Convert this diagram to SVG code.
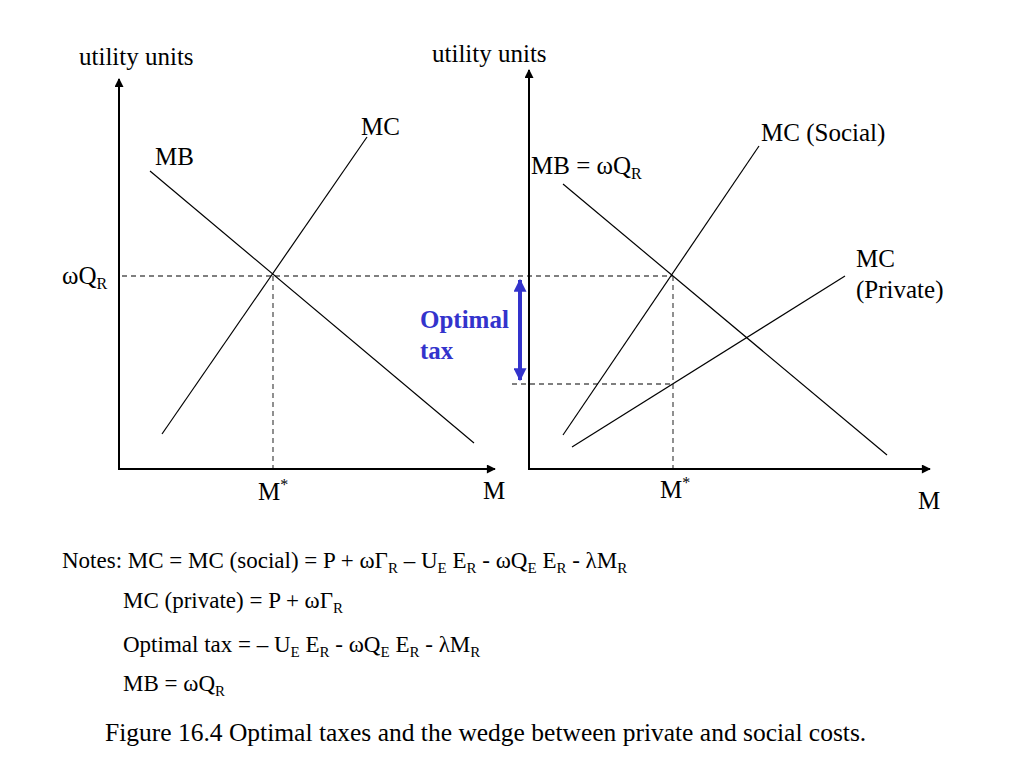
<svg xmlns="http://www.w3.org/2000/svg" width="1024" height="768" viewBox="0 0 1024 768">
<defs>
<marker id="ah" viewBox="0 0 10 10" refX="9" refY="5" markerWidth="10" markerHeight="9" markerUnits="userSpaceOnUse" orient="auto">
<path d="M0,0 L10,5 L0,10 z" fill="#000"/>
</marker>
<marker id="bh" viewBox="0 0 10 10" refX="9" refY="5" markerWidth="15" markerHeight="13" markerUnits="userSpaceOnUse" orient="auto-start-reverse">
<path d="M0,0 L10,5 L0,10 z" fill="#3333CC"/>
</marker>
</defs>
<style>
text{font-family:"Liberation Serif","Times New Roman",serif;fill:#000}
.lbl{font-size:25px}
.note{font-size:23px}
.cap{font-size:25.5px}
.sub{font-size:16px}
.nsub{font-size:15px}
.axis{stroke:#000;stroke-width:2;fill:none}
.curve{stroke:#000;stroke-width:1.2;fill:none}
.dash{stroke:#555;stroke-width:1.3;stroke-dasharray:5,4;fill:none}
.blue{fill:#3333CC;font-weight:bold;font-size:25px}
</style>
<rect width="1024" height="768" fill="#fff"/>

<g id="connectors">
<line class="dash" x1="122" y1="276" x2="672" y2="276"/>
<line class="dash" x1="273" y1="276" x2="273" y2="468"/>
<line class="dash" x1="512" y1="384" x2="673" y2="384"/>
<line class="dash" x1="673" y1="276" x2="673" y2="468"/>
<line class="axis" x1="119" y1="469" x2="119" y2="79" marker-end="url(#ah)"/>
<line class="axis" x1="118" y1="469" x2="495" y2="469" marker-end="url(#ah)"/>
<line class="axis" x1="529" y1="470" x2="529" y2="70" marker-end="url(#ah)"/>
<line class="axis" x1="528" y1="469" x2="930" y2="469" marker-end="url(#ah)"/>
<line class="curve" x1="150" y1="171" x2="474" y2="443"/>
<line class="curve" x1="162" y1="434" x2="367" y2="137"/>
<line class="curve" x1="563" y1="184" x2="887" y2="455"/>
<line class="curve" x1="563" y1="435" x2="759" y2="146"/>
<line class="curve" x1="572" y1="447" x2="845" y2="276"/>
<line x1="520" y1="280" x2="520" y2="380" stroke="#3333CC" stroke-width="4" marker-start="url(#bh)" marker-end="url(#bh)"/>
</g>

<g id="left-ylabel"><text class="lbl" x="79" y="65">utility units</text></g>
<g id="left-mb"><text class="lbl" x="155" y="165">MB</text></g>
<g id="left-mc"><text class="lbl" x="361" y="135">MC</text></g>
<g id="left-wq"><text class="lbl" x="62" y="284">ωQ<tspan class="sub" dy="5">R</tspan></text></g>
<g id="left-mstar"><text class="lbl" x="258" y="500">M<tspan class="sub" dy="-10">*</tspan></text></g>
<g id="left-m"><text class="lbl" x="483" y="499">M</text></g>

<g id="right-ylabel"><text class="lbl" x="432" y="62">utility units</text></g>
<g id="right-mcs"><text class="lbl" x="761" y="141">MC (Social)</text></g>
<g id="right-mb"><text class="lbl" x="531" y="174">MB = ωQ<tspan class="sub" dy="5">R</tspan></text></g>
<g id="right-mcp"><text class="lbl" x="856" y="267">MC</text><text class="lbl" x="856" y="298">(Private)</text></g>
<g id="right-mstar"><text class="lbl" x="660" y="498">M<tspan class="sub" dy="-10">*</tspan></text></g>
<g id="right-m"><text class="lbl" x="918" y="509">M</text></g>

<g id="optimal-tax"><text class="blue" x="420" y="328">Optimal</text><text class="blue" x="420" y="359">tax</text></g>

<g id="notes">
<text class="note" x="62" y="568">Notes: MC = MC (social) = P + ωΓ<tspan class="nsub" dy="5">R</tspan><tspan dy="-5"> – U</tspan><tspan class="nsub" dy="5">E</tspan><tspan dy="-5"> E</tspan><tspan class="nsub" dy="5">R</tspan><tspan dy="-5"> - ωQ</tspan><tspan class="nsub" dy="5">E</tspan><tspan dy="-5"> E</tspan><tspan class="nsub" dy="5">R</tspan><tspan dy="-5"> - λM</tspan><tspan class="nsub" dy="5">R</tspan></text>
<text class="note" x="123" y="608">MC (private) = P + ωΓ<tspan class="nsub" dy="5">R</tspan></text>
<text class="note" x="123" y="652">Optimal tax = – U<tspan class="nsub" dy="5">E</tspan><tspan dy="-5"> E</tspan><tspan class="nsub" dy="5">R</tspan><tspan dy="-5"> - ωQ</tspan><tspan class="nsub" dy="5">E</tspan><tspan dy="-5"> E</tspan><tspan class="nsub" dy="5">R</tspan><tspan dy="-5"> - λM</tspan><tspan class="nsub" dy="5">R</tspan></text>
<text class="note" x="123" y="691">MB = ωQ<tspan class="nsub" dy="5">R</tspan></text>
</g>

<g id="caption"><text class="cap" x="105" y="741">Figure 16.4 Optimal taxes and the wedge between private and social costs.</text></g>
</svg>
